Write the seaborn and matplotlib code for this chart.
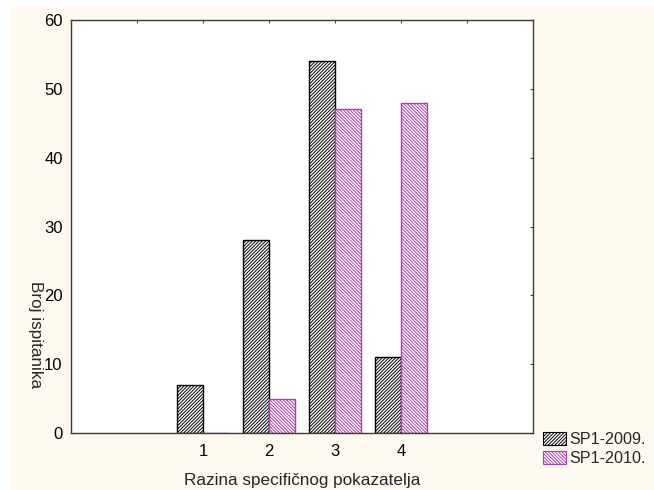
import pandas as pd
import matplotlib.pyplot as plt
import matplotlib.patches as mpatches
import seaborn as sns

# data
categories = ["1", "2", "3", "4"]
sp1_2009 = [7, 28, 54, 11]
sp1_2010 = [0, 5, 47, 48]
series_names = ["SP1-2009.", "SP1-2010."]

df = pd.DataFrame({
    "razina": categories * 2,
    "broj": sp1_2009 + sp1_2010,
    "serija": [series_names[0]] * 4 + [series_names[1]] * 4,
})

sns.set_theme(style="white")
plt.rcParams["font.family"] = ["Liberation Sans", "DejaVu Sans"]
plt.rcParams["hatch.linewidth"] = 0.7

cream = "#fef9ef"
magenta = "#b03cb0"

fig = plt.figure(figsize=(6.54, 4.9), dpi=100, facecolor="white")
# cream panel behind everything
fig.patches.append(mpatches.Rectangle((10 / 654, 0), 1, 1 - 7 / 490,
                                      transform=fig.transFigure,
                                      facecolor=cream, edgecolor="none", zorder=-5))
ax = fig.add_axes([71 / 654, 57 / 490, 462 / 654, 413 / 490])
ax.set_facecolor("white")

sns.barplot(data=df, x="razina", y="broj", hue="serija", hue_order=series_names,
            order=categories, palette=["white", "white"], width=0.8,
            saturation=1, legend=False, ax=ax)

styles = [("black", "/" * 10), (magenta, "\\" * 10)]
for cont, (ec, hatch) in zip(ax.containers, styles):
    for bar in cont:
        bar.set_edgecolor(ec)
        bar.set_hatch(hatch)
        bar.set_linewidth(1.0)
        bar.set_facecolor("white")

ax.set_xlim(-2, 5)
ax.set_ylim(0, 60)
ax.set_xticks(range(-1, 5))
ax.set_xticklabels([""] + categories + [""])
ax.set_yticks(range(0, 61, 10))
ax.tick_params(axis="both", direction="in", length=2.5, width=0.8, color="#3c3c3c",
               top=True, right=True, labelsize=12, labelcolor="black")
ax.tick_params(axis="y", pad=6)
ax.tick_params(axis="x", pad=8)
for sp in ax.spines.values():
    sp.set_visible(True)
    sp.set_color("#3c3c3c")
    sp.set_linewidth(1.0)

ax.set_xlabel("Razina specifičnog pokazatelja", fontsize=12.3, labelpad=10)
ax.set_ylabel("")
fig.text(35 / 654, 1 - 335 / 490, "Broj ispitanika", rotation=270,
         ha="center", va="center", fontsize=12.3)

handles = [mpatches.Patch(facecolor="white", edgecolor=ec, hatch=h, linewidth=0.8)
           for ec, h in styles]
fig.legend(handles, series_names, loc="upper left",
           bbox_to_anchor=(543 / 654, 1 - 432 / 490), frameon=False,
           fontsize=11.6, handlelength=1.4, handleheight=0.8,
           handletextpad=0.2, labelspacing=0.25, borderaxespad=0,
           borderpad=0)

fig.savefig("out.png", dpi=100, facecolor=fig.get_facecolor())
